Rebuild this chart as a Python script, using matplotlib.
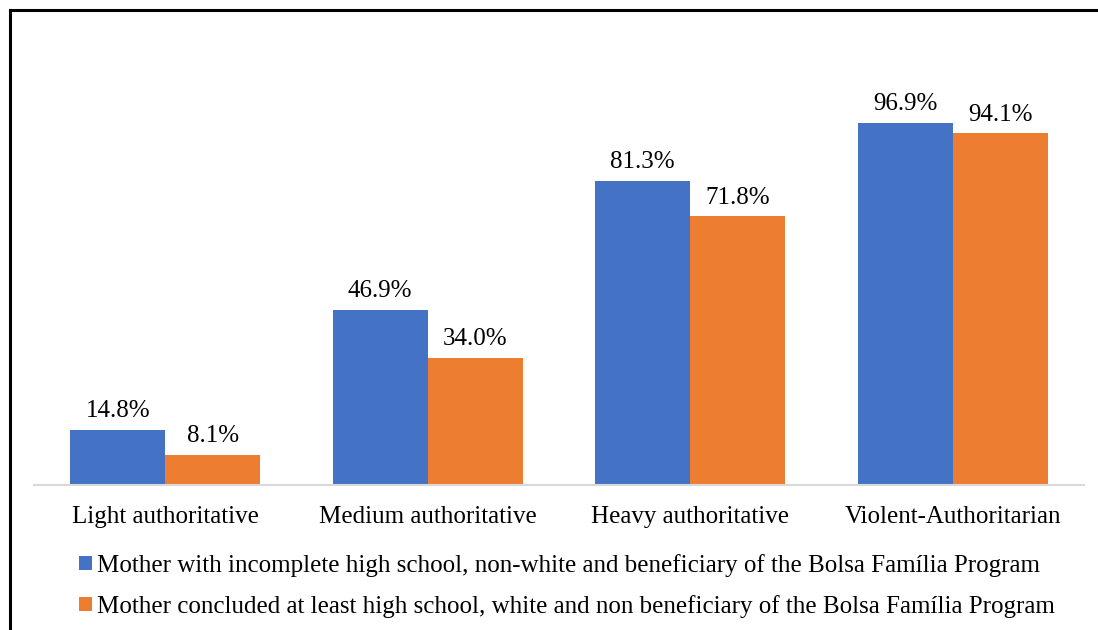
import matplotlib
matplotlib.use("Agg")
import matplotlib.pyplot as plt
import numpy as np
from matplotlib.lines import Line2D
from matplotlib.patches import Patch

plt.rcParams["font.family"] = ["Liberation Serif", "DejaVu Serif"]

categories = ["Light authoritative", "Medium authoritative",
              "Heavy authoritative", "Violent-Authoritarian"]
series_names = [
    "Mother with incomplete high school, non-white and beneficiary of the Bolsa Família Program",
    "Mother concluded at least high school, white and non beneficiary of the Bolsa Família Program",
]
low_ses = [14.8, 46.9, 81.3, 96.9]
high_ses = [8.1, 34.0, 71.8, 94.1]
colors = ["#4472C4", "#ED7D31"]

fig = plt.figure(figsize=(10.98, 6.30), dpi=100)
ax = fig.add_axes([34 / 1098, 1 - 485 / 630, 1050 / 1098, 411.4 / 630])

x = np.arange(len(categories))
w = 0.362
for vals, off, col in [(low_ses, -w / 2, colors[0]), (high_ses, w / 2, colors[1])]:
    bars = ax.bar(x + off, vals, width=w, color=col, zorder=2)
    for b, v in zip(bars, vals):
        ax.text(b.get_x() + b.get_width() / 2, v + 2.0, f"{v:.1f}%",
                ha="center", va="bottom", fontsize=18)

ax.set_xlim(-0.5, len(categories) - 0.5)
ax.set_ylim(0, 110)
ax.set_xticks(x)
ax.set_xticklabels(categories, fontsize=18)
ax.tick_params(axis="x", length=0, pad=15)
ax.set_yticks([])
for side in ["top", "right", "left"]:
    ax.spines[side].set_visible(False)
ax.spines["bottom"].set_color("#D9D9D9")
ax.spines["bottom"].set_linewidth(1.5)

handles = [Patch(facecolor=c, edgecolor="none") for c in colors]
fig.legend(handles, series_names, loc="upper left",
           bbox_to_anchor=(79 / 1098, 1 - 554 / 630), frameon=False,
           fontsize=18, handlelength=0.5, handleheight=0.5,
           handletextpad=0.22, labelspacing=0.72, borderpad=0, borderaxespad=0)

# frame along the top and left edges
fig.add_artist(Line2D([10 / 1098, 1], [1 - 10 / 630, 1 - 10 / 630],
                      transform=fig.transFigure, color="black", lw=2.2))
fig.add_artist(Line2D([10 / 1098, 10 / 1098], [0, 1 - 10 / 630],
                      transform=fig.transFigure, color="black", lw=2.2))

fig.savefig("out.png", dpi=100)
